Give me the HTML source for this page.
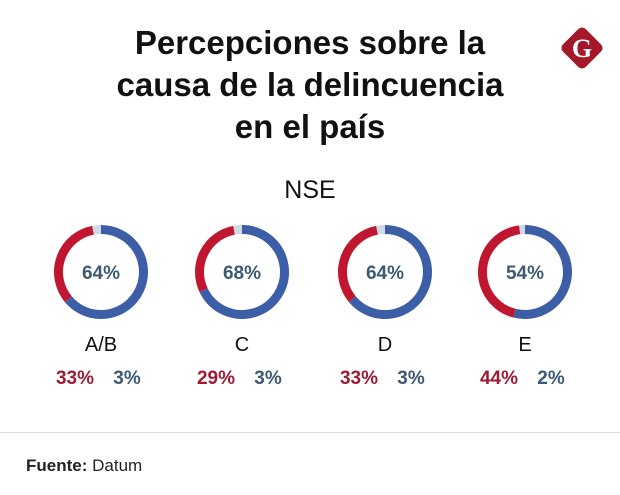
<!DOCTYPE html>
<html><head><meta charset="utf-8"><style>
body{margin:0;width:620px;height:495px;background:#fff;font-family:"Liberation Sans","DejaVu Sans",sans-serif;overflow:hidden;position:relative}
.t{position:absolute;left:0;width:620px;text-align:center;font-weight:bold;font-size:33px;line-height:42px;top:22px;color:#111}
.nse{position:absolute;top:176px;width:620px;left:0;text-align:center;font-size:25px;color:#111}
.hr{position:absolute;left:0;width:620px;top:432px;height:1px;background:#ddd}
.f{position:absolute;left:26px;top:456px;font-size:17px;color:#222}
</style></head><body>
<div class="t">Percepciones sobre la<br>causa de la delincuencia<br>en el país</div>
<svg style="position:absolute;left:558px;top:24px" width="48" height="48">
<rect x="8" y="8" width="32" height="32" rx="5" fill="#a3182a" transform="rotate(45 24 24)"/>
<text x="24" y="33" text-anchor="middle" font-family="Liberation Serif,serif" font-weight="bold" font-size="26" fill="#fff">G</text></svg>
<div class="nse">NSE</div>
<svg id="c" width="620" height="495" style="position:absolute;left:0;top:0"></svg>
<div class="hr"></div>
<div class="f"><b>Fuente:</b> Datum</div>
<script>
const categories=["A/B","C","D","E"];
const blueVals=[64,68,64,54];
const redVals=[33,29,33,44];
const otherVals=[3,3,3,2];
const centers=[101,242,385,525];
const svg=document.getElementById('c');const NS="http://www.w3.org/2000/svg";
function arc(cx,cy,r,a0,a1){const p=a=>[cx+r*Math.sin(a*2*Math.PI/100),cy-r*Math.cos(a*2*Math.PI/100)];const[s0,s1]=p(a0),[e0,e1]=p(a1);return `M${s0} ${s1}A${r} ${r} 0 ${a1-a0>50?1:0} 1 ${e0} ${e1}`;}
function el(t,a,txt){const e=document.createElementNS(NS,t);for(const k in a)e.setAttribute(k,a[k]);if(txt!==undefined)e.textContent=txt;svg.appendChild(e);return e;}
categories.forEach((c,i)=>{const cx=centers[i],cy=272,r=42.5;
const tot=blueVals[i]+redVals[i]+otherVals[i];const b=blueVals[i]/tot*100,rd=redVals[i]/tot*100;
let e=el('path',{d:arc(cx,cy,r,0,b),stroke:'#3b5ea6','stroke-width':9,fill:'none'});

e=el('path',{d:arc(cx,cy,r,b,b+rd),stroke:'#c0162f','stroke-width':9,fill:'none'});

e=el('path',{d:arc(cx,cy,r,b+rd,99.99),stroke:'#cfd9e8','stroke-width':9,fill:'none'});

e=el('text',{x:cx,y:cy+7,'text-anchor':'middle','font-size':19,'font-weight':'bold',fill:'#3d5a75'},blueVals[i]+'%');

e=el('text',{x:cx,y:351,'text-anchor':'middle','font-size':20,fill:'#111'},c);

e=el('text',{x:cx-26,y:384,'text-anchor':'middle','font-size':19,'font-weight':'bold',fill:'#9e1b32'},redVals[i]+'%');

e=el('text',{x:cx+26,y:384,'text-anchor':'middle','font-size':19,'font-weight':'bold',fill:'#3d5a75'},otherVals[i]+'%');

});
</script></body></html>
